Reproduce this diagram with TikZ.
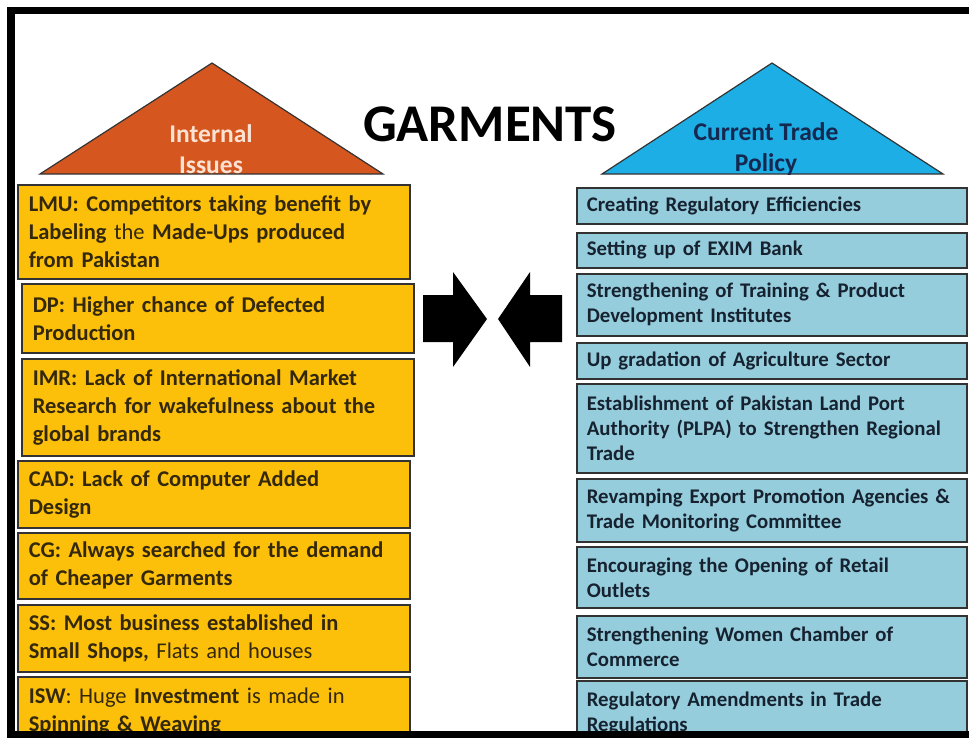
\documentclass[tikz,border=0pt]{standalone}
\usepackage{fontspec}
\setmainfont{Carlito}
\definecolor{issuefill}{RGB}{252,192,10}
\definecolor{policyfill}{RGB}{150,205,220}
\definecolor{issuetri}{RGB}{213,87,31}
\definecolor{policytri}{RGB}{28,174,228}
\definecolor{issuetext}{RGB}{52,40,12}
\definecolor{policytext}{RGB}{22,34,48}
\definecolor{boxline}{RGB}{50,50,50}
\definecolor{peach}{RGB}{252,226,210}
\definecolor{navy}{RGB}{20,40,80}
\tikzset{
  issue/.style={draw=boxline, line width=1.6pt, fill=issuefill, anchor=north west, text width=370pt, inner xsep=11pt, inner ysep=5pt, align=left, text=issuetext, font=\fontsize{22.5}{28}\selectfont\bfseries},
  policy/.style={draw=boxline, line width=1.6pt, fill=policyfill, anchor=north west, text width=370pt, inner xsep=10pt, inner ysep=4pt, align=left, text=policytext, font=\fontsize{20.8}{25}\selectfont\bfseries},
  trilabel/.style={align=center, font=\fontsize{25.5}{31}\selectfont\bfseries}
}
\begin{document}
\begin{tikzpicture}[x=1pt, y=-1pt]
			\useasboundingbox (0,0) rectangle (969,737);
			\clip (0,0) rectangle (969,737);
			\filldraw[fill=issuetri, draw=black!80, line width=1.2pt] (40,174) -- (212,63) -- (383,174) -- cycle;
			\filldraw[fill=policytri, draw=black!80, line width=1.2pt] (602,174) -- (772,63) -- (943,174) -- cycle;
			\node[trilabel, text=peach] (internal) at (211,149) {Internal\\Issues};
			\node[trilabel, text=navy] (current) at (766,149) {Current Trade\\Policy};
			\node[font=\fontsize{53}{60}\selectfont\bfseries] (title) at (490,124) {GARMENTS};
			
			\node[issue, minimum height=94pt] (lmu) at (17,184) {LMU: Competitors taking benefit by\\Labeling {\mdseries the} Made-Ups produced\\from Pakistan};
			\node[issue, minimum height=69pt] (dp) at (21,283) {DP: Higher chance of Defected\\Production};
			\node[issue, minimum height=97pt] (imr) at (21,358) {IMR: Lack of International Market\\Research for wakefulness about the\\global brands};
			\node[issue, minimum height=67pt] (cad) at (17,460) {CAD: Lack of Computer Added\\Design};
			\node[issue, minimum height=66pt] (cg) at (17,532) {CG: Always searched for the demand\\of Cheaper Garments};
			\node[issue, minimum height=67pt] (ss) at (17,604) {SS: Most business established in\\Small Shops, {\mdseries Flats and houses}};
			\node[issue, minimum height=70pt] (isw) at (17,676) {ISW{\mdseries: Huge} Investment {\mdseries is made in}\\Spinning \& Weaving};
			
			\node[policy, minimum height=36pt] (regeff) at (576,187) {Creating Regulatory Efficiencies};
			\node[policy, minimum height=35pt] (exim) at (576,232) {Setting up of EXIM Bank};
			\node[policy, minimum height=62pt] (training) at (576,273) {Strengthening of Training \& Product\\Development Institutes};
			\node[policy, minimum height=36pt] (agri) at (576,342) {Up gradation of Agriculture Sector};
			\node[policy, minimum height=89pt] (plpa) at (576,383) {Establishment of Pakistan Land Port\\Authority (PLPA) to Strengthen Regional\\Trade};
			\node[policy, minimum height=63pt] (export) at (576,478) {Revamping Export Promotion Agencies \&\\Trade Monitoring Committee};
			\node[policy, minimum height=61pt] (retail) at (576,546) {Encouraging the Opening of Retail\\Outlets};
			\node[policy, minimum height=62pt] (women) at (576,615) {Strengthening Women Chamber of\\Commerce};
			\node[policy, minimum height=65pt] (amend) at (576,680) {Regulatory Amendments in Trade\\Regulations};
			
			\fill[black] (423,295) -- (453,295) -- (453,272) -- (487,319) -- (453,367) -- (453,342) -- (423,342) -- cycle;
			\fill[black] (562,295) -- (530,295) -- (530,272) -- (498,319) -- (530,367) -- (530,342) -- (562,342) -- cycle;
			
			\draw[line width=7.5pt] (969,10.5) -- (11,10.5) -- (11,735) -- (969,735);
\end{tikzpicture}
\end{document}
